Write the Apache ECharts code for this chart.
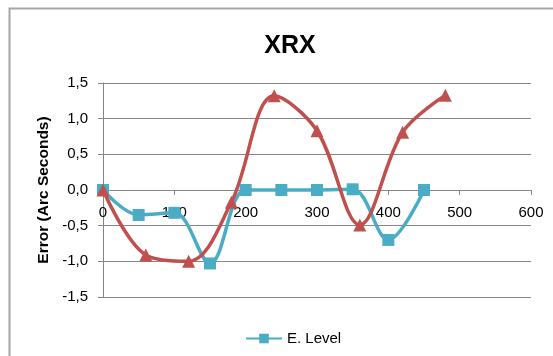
<!DOCTYPE html>
<html><head><meta charset="utf-8">
<script src="https://cdn.jsdelivr.net/npm/echarts@6/dist/echarts.min.js"></script>
<style>html,body{margin:0;padding:0;background:#fff}#c{width:553px;height:356px}</style>
</head><body><div id="c"></div>
<script>
var blueX = [0, 50, 100, 150, 200, 250, 300, 350, 400, 450];
var blueY = [0, -0.35, -0.32, -1.03, 0, 0, 0, 0.01, -0.7, 0];
var redX = [0, 60, 120, 180, 240, 300, 360, 420, 480];
var redY = [0, -0.91, -1.0, -0.17, 1.32, 0.83, -0.49, 0.81, 1.33];
var blueName = 'E. Level';
var redName = 'Series2';
var titleText = 'XRX';
var yTitle = 'Error (Arc Seconds)';

function pairs(xs, ys){ return xs.map(function(x,i){return [x, ys[i]];}); }
var FONT = 'Liberation Sans';
var chart = echarts.init(document.getElementById('c'), null, {renderer:'canvas'});
chart.setOption({
  animation:false,
  backgroundColor:'#fff',
  title:{text:titleText, left:285, top:29, textAlign:'center',
    textStyle:{fontFamily:FONT, fontSize:25, fontWeight:'bold', color:'#000'}},
  graphic:[{type:'polyline', shape:{points:[[9.5,356],[9.5,8.5],[553,8.5]]},
    style:{stroke:'#a6a6a6', lineWidth:2, fill:null}}],
  legend:{data:[blueName], left:240, top:326, itemWidth:36, itemHeight:12, itemGap:4,
    textStyle:{fontFamily:FONT, fontSize:15, color:'#000'}},
  grid:{left:103, right:22, top:83, bottom:59, containLabel:false},
  xAxis:{type:'value', min:0, max:600, interval:100, position:'bottom', offset:-107,
    axisLine:{onZero:false, lineStyle:{color:'#868686', width:1}},
    axisTick:{show:true, inside:false, length:5, lineStyle:{color:'#868686'}},
    axisLabel:{fontFamily:FONT, fontSize:15, color:'#000', margin:15},
    splitLine:{show:false}},
  yAxis:{type:'value', min:-1.5, max:1.5, interval:0.5,
    name:yTitle, nameLocation:'middle', nameGap:50, nameRotate:90,
    nameTextStyle:{fontFamily:FONT, fontSize:15.5, fontWeight:'bold', color:'#000'},
    axisLine:{show:true, lineStyle:{color:'#868686', width:1}},
    axisTick:{show:true, length:5, lineStyle:{color:'#868686'}},
    axisLabel:{fontFamily:FONT, fontSize:15, color:'#000', margin:15,
      formatter:function(v){return v.toFixed(1).replace('.', ',');}},
    splitLine:{show:true, lineStyle:{color:'#868686', width:1}}},
  series:[
    {name:blueName, type:'line', data:pairs(blueX, blueY), smooth:0.35,
      symbol:'rect', symbolSize:12, itemStyle:{color:'#4BACC6'},
      lineStyle:{color:'#4BACC6', width:3.5}, z:3},
    {name:redName, type:'line', data:pairs(redX, redY), smooth:0.35,
      symbol:'triangle', symbolSize:13, itemStyle:{color:'#C0504D'},
      lineStyle:{color:'#C0504D', width:3.5}, z:4}
  ]
});
</script></body></html>
